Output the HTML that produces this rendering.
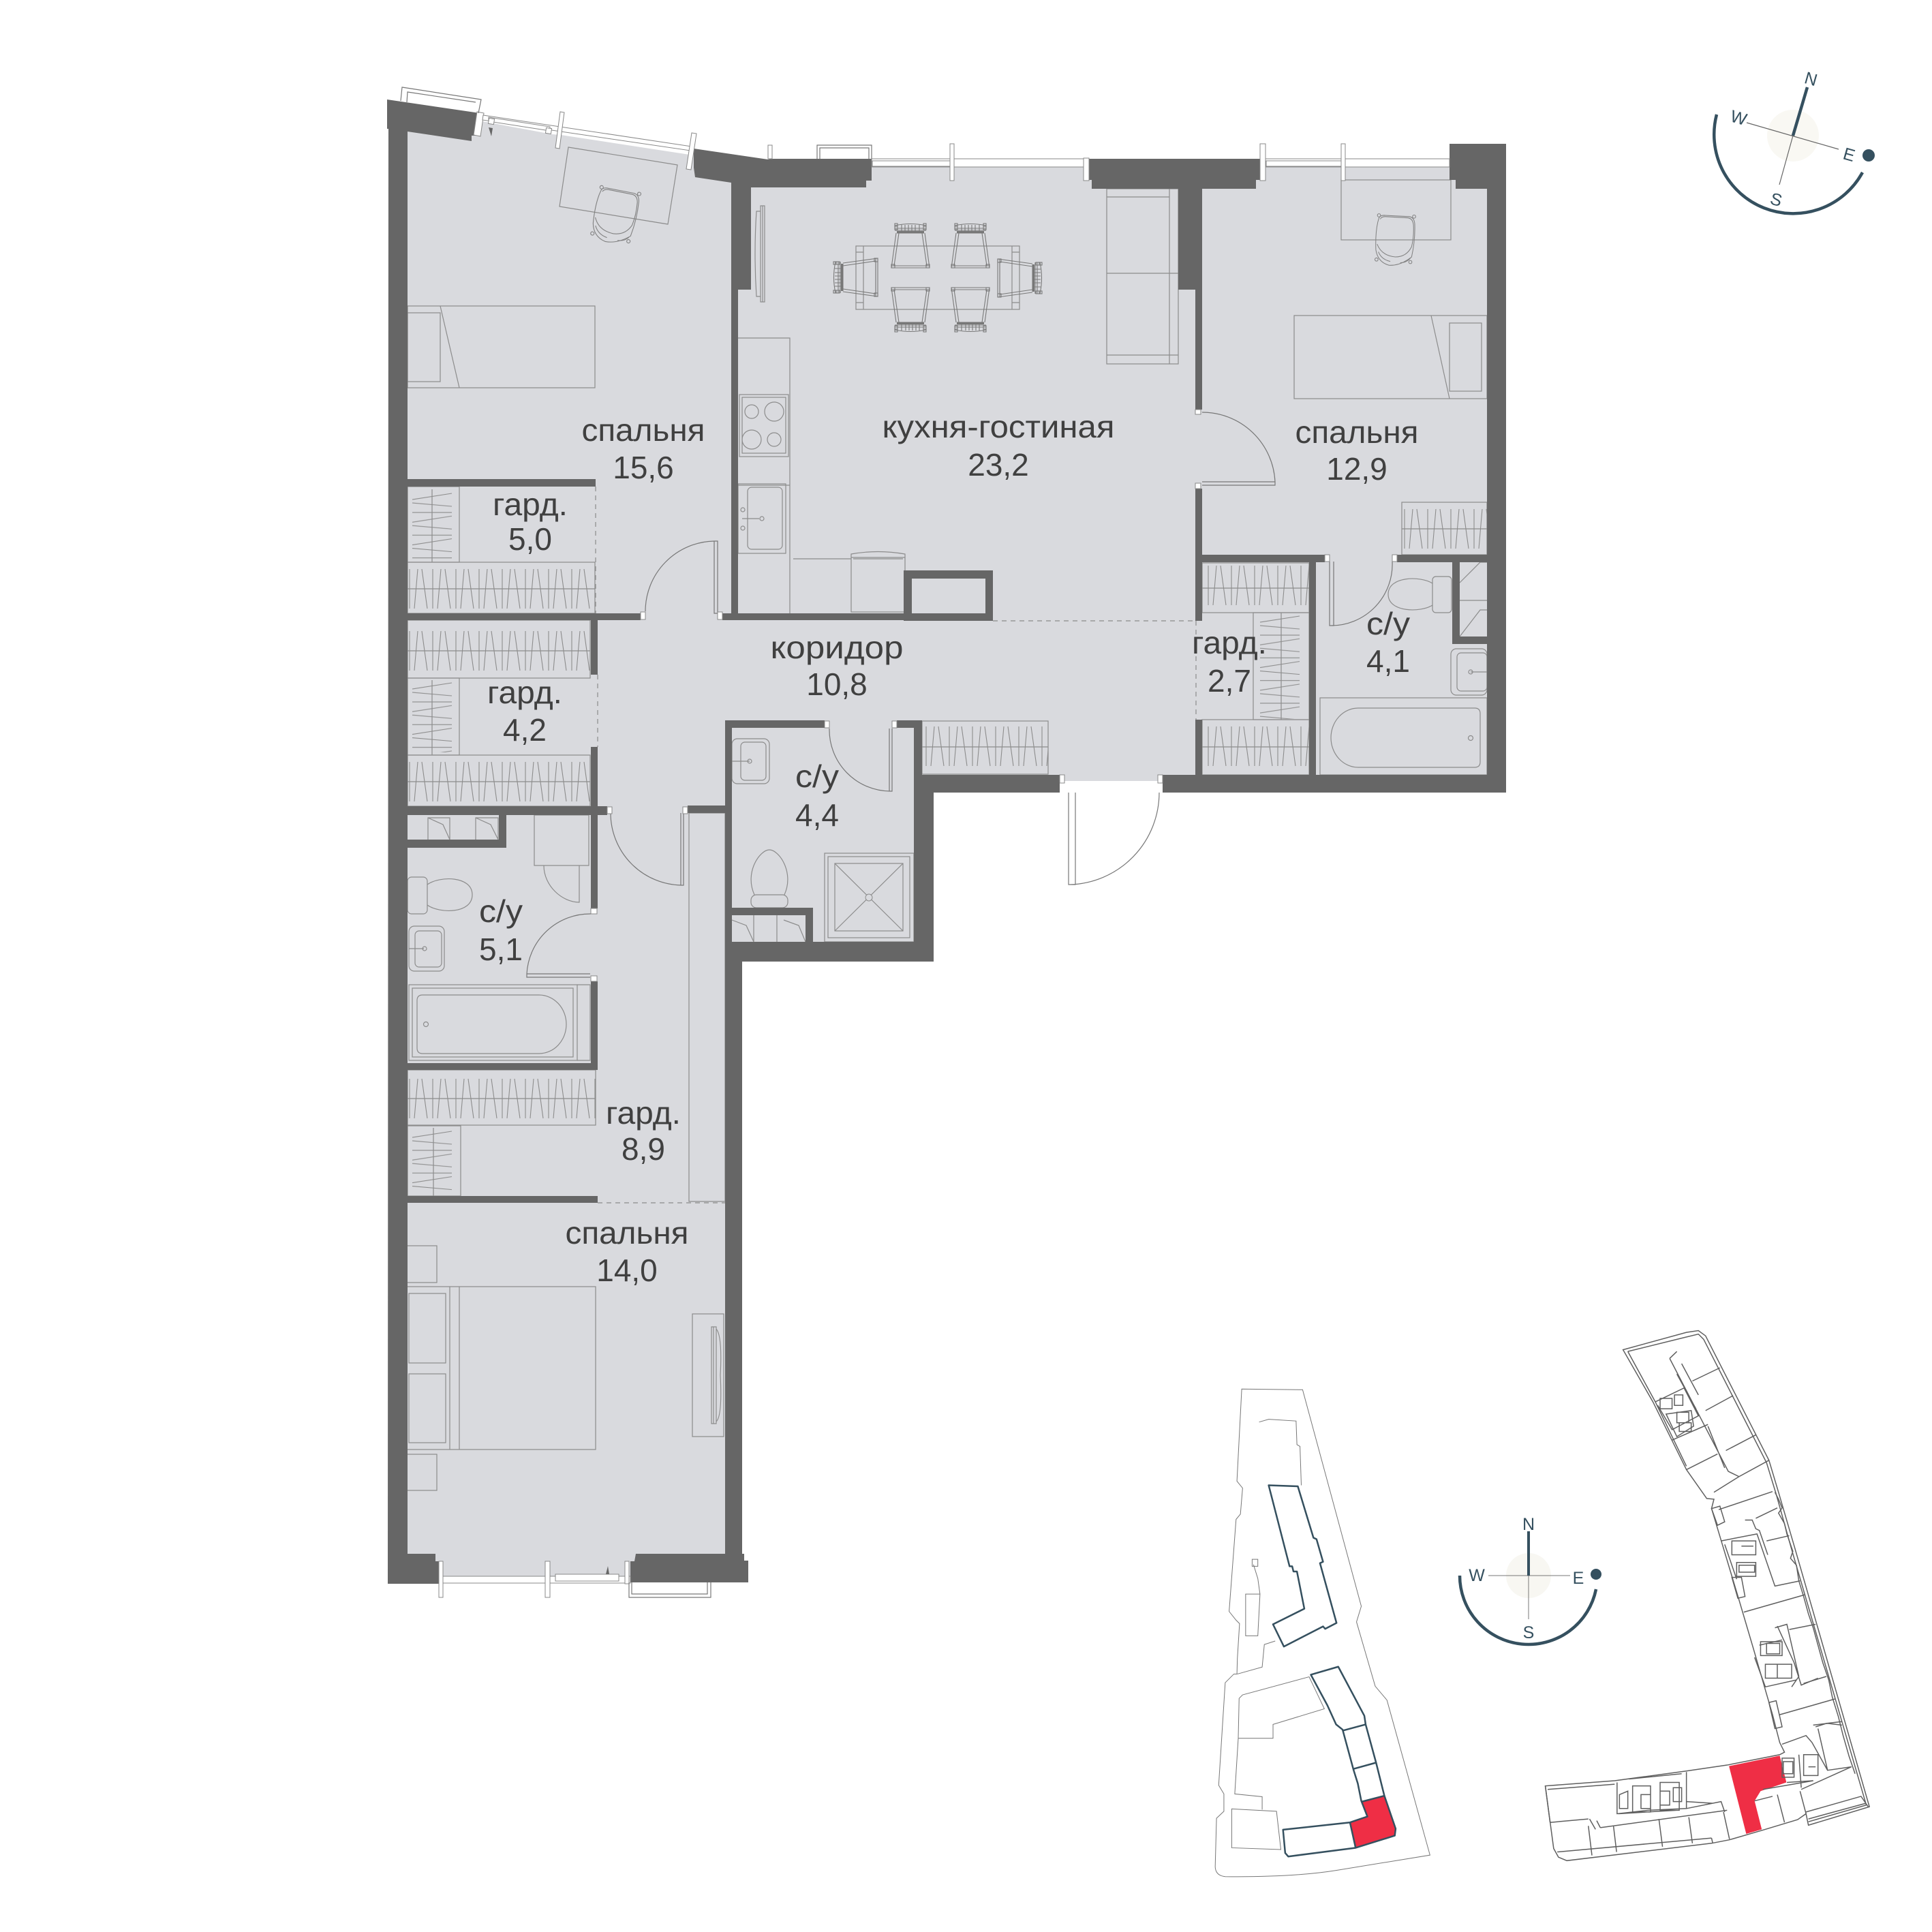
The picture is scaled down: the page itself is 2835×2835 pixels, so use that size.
<!DOCTYPE html>
<html><head><meta charset="utf-8"><style>
html,body{margin:0;padding:0;background:#fff}
svg{display:block}
.w{fill:#666}
.l{fill:none;stroke:#8c8c8c;stroke-width:1.2}
.d{fill:none;stroke:#777;stroke-width:1.2}
.t{font-family:"Liberation Sans",sans-serif;font-size:46px;fill:#404040;text-anchor:middle}
.c{font-family:"Liberation Sans",sans-serif;font-size:25px;fill:#35505f;text-anchor:middle}
.n{fill:none;stroke:#777;stroke-width:1;vector-effect:non-scaling-stroke}
.b{fill:none;stroke:#35505f;stroke-width:2.5;vector-effect:non-scaling-stroke;stroke-linejoin:round}
.g{fill:none;stroke:#5f5f5f;stroke-width:1.5;vector-effect:non-scaling-stroke}
.dash{fill:none;stroke:#8c8c8c;stroke-width:1.2;stroke-dasharray:7 6}
</style></head><body>
<svg xmlns="http://www.w3.org/2000/svg" width="2835" height="2835" viewBox="0 0 2835 2835">
<defs>
<pattern id="hz" patternUnits="userSpaceOnUse" width="34" height="90">
<path d="M3 10V68M15 10L10 68M21 10L29 68" fill="none" stroke="#8c8c8c" stroke-width="1.1"/>
</pattern>
<pattern id="vt" patternUnits="userSpaceOnUse" width="90" height="33.3">
<path d="M7 11L65 2M7 16L65 21M7 30H65" fill="none" stroke="#8c8c8c" stroke-width="1.1"/>
</pattern>
<g id="chair" fill="none" stroke="#7a7a7a" stroke-width="1.1">
<path d="M7 14L0 65H56L49 14"/><path d="M11 14L4 62H52L45 14"/><path d="M0 62H56"/>
<path d="M5 3Q28 -2 51 3"/><path d="M5 7H51M5 10H51"/>
<rect x="8" y="11" width="40" height="3.5" fill="#777" stroke="none"/>
<path d="M15 2V11M20 2V11M25 2V11M30 2V11M35 2V11M41 2V11"/>
<rect x="5" y="0" width="4" height="4"/><rect x="47" y="0" width="4" height="4"/><rect x="5" y="4" width="4" height="5"/><rect x="47" y="4" width="4" height="5"/>
<rect x="0" y="60" width="5" height="5"/><rect x="51" y="60" width="5" height="5"/>
</g>
<g id="dchair" fill="none" stroke="#808080" stroke-width="1.1">
<path d="M6 5Q8 1 14 1L54 3Q62 4 63 14Q64 40 58 66Q40 80 22 79Q4 74 1 55Q0 30 4 12Z"/>
<path d="M8 7Q10 3 16 3L52 5Q60 6 61 16Q62 35 58 50Q50 66 32 66Q10 64 3 46"/>
<path d="M5 58Q10 70 24 73M40 75Q50 75 56 68"/>
<circle cx="6" cy="1" r="2.5"/><circle cx="62" cy="3" r="2.5"/><circle cx="2" cy="70" r="2.5"/><circle cx="56" cy="74" r="2.5"/>
</g>
</defs>

<!-- floor -->
<polygon fill="#d9dade" points="598,170 708,178 810,197 823,198 1012,227 1130,240 1279,245 1592,245 1849,245 2130,245 2210,245 2210,1146 1706,1146 1355,1146 1355,1400 1075,1400 1075,2313 598,2313"/>

<!-- furniture -->
<polygon class="l" points="834,216 994,242 980,329 821,303"/>
<use href="#dchair" transform="translate(877 273) rotate(8)"/>
<rect class="l" x="598" y="449" width="275" height="120"/><rect class="l" x="598" y="459" width="48" height="101"/><path class="l" d="M646 449L674 569"/>
<!-- table -->
<rect class="l" x="1256" y="361" width="240" height="93"/><path class="l" d="M1267 361V454M1485 361V454M1256 370H1267M1256 444H1267M1485 370H1496M1485 444H1496"/>
<use href="#chair" transform="translate(1308 328)"/><use href="#chair" transform="translate(1396 328)"/>
<use href="#chair" transform="translate(1364 487) rotate(180)"/><use href="#chair" transform="translate(1452 487) rotate(180)"/>
<use href="#chair" transform="translate(1223 435) rotate(-90)"/><use href="#chair" transform="translate(1529 380) rotate(90)"/>
<!-- tv kitchen -->
<path class="l" d="M1110 310H1116V302H1122V443H1116V435H1110Q1106 372 1110 310ZM1116 302V443M1119 302V443"/>
<!-- kitchen -->
<path class="l" d="M1083 496H1159V900M1083 712H1159M1164 820H1249"/>
<rect class="l" x="1085" y="579" width="72" height="91"/><rect class="l" x="1089" y="583" width="64" height="82"/>
<circle class="l" cx="1103" cy="604" r="10"/><circle class="l" cx="1136" cy="604" r="14"/><circle class="l" cx="1103" cy="645" r="14"/><circle class="l" cx="1136" cy="645" r="10"/>
<rect class="l" x="1083" y="710" width="70" height="102"/><rect class="l" x="1097" y="715" width="51" height="91" rx="6"/>
<path class="l" d="M1089 761H1114"/><circle class="l" cx="1090" cy="748" r="3"/><circle class="l" cx="1090" cy="775" r="3"/><circle class="l" cx="1118" cy="761" r="3"/>
<rect class="l" x="1249" y="818" width="79" height="80"/><path class="l" d="M1249 818V813Q1288 806 1328 813V818"/><path class="l" d="M1252 820H1325"/>
<!-- sofa -->
<rect class="l" x="1624" y="277" width="105" height="257"/><path class="l" d="M1624 289H1716M1624 401H1729M1624 521H1729M1716 277V534"/>
<!-- desk right -->
<rect class="l" x="1968" y="264" width="161" height="88"/><use href="#dchair" transform="translate(2018 315) scale(.92 .94)"/>
<rect class="l" x="1899" y="463" width="283" height="122"/><rect class="l" x="2127" y="474" width="47" height="100"/><path class="l" d="M2100 463L2127 585"/>
<!-- bed 14 -->
<rect class="l" x="597" y="1888" width="277" height="239"/><path class="l" d="M660 1888V2127M674 1888V2127"/>
<rect class="l" x="600" y="1898" width="54" height="102"/><rect class="l" x="600" y="2016" width="54" height="101"/>
<rect class="l" x="597" y="1828" width="44" height="54"/><rect class="l" x="597" y="2134" width="44" height="53"/>
<rect class="l" x="1016" y="1928" width="46" height="180"/>
<path class="l" d="M1044 1947H1051V2089H1044ZM1051 1950Q1060 1960 1057 2018Q1060 2078 1051 2086M1047 1947V2089"/>
<rect class="l" x="1011" y="1193" width="53" height="570"/>

<!-- wardrobes -->
<g class="l">
<rect x="598" y="825" width="275" height="75"/><rect x="598" y="910" width="268" height="85"/><rect x="598" y="1108" width="268" height="75"/>
<rect x="1353" y="1058" width="185" height="78"/><rect x="598" y="1570" width="276" height="81"/><rect x="2057" y="737" width="125" height="77"/>
<rect x="1764" y="826" width="157" height="73"/><rect x="1764" y="1056" width="157" height="81"/>
<rect x="598" y="714" width="76" height="111"/><rect x="598" y="995" width="76" height="113"/><rect x="598" y="1652" width="78" height="103"/><rect x="1839" y="899" width="82" height="157"/>
</g>
<svg x="598" y="825" width="275" height="75"><rect width="275" height="75" fill="url(#hz)"/></svg>
<svg x="598" y="916" width="268" height="75"><rect width="268" height="75" fill="url(#hz)"/></svg>
<svg x="598" y="1108" width="268" height="75"><rect width="268" height="75" fill="url(#hz)"/></svg>
<svg x="1356" y="1056" width="182" height="78"><rect width="182" height="78" fill="url(#hz)"/></svg>
<svg x="598" y="1573" width="276" height="78"><rect width="276" height="78" fill="url(#hz)"/></svg>
<svg x="2058" y="737" width="124" height="77"><rect width="124" height="77" fill="url(#hz)"/></svg>
<svg x="1770" y="820" width="151" height="73"><rect width="151" height="73" fill="url(#hz)"/></svg>
<svg x="1770" y="1056" width="151" height="78"><rect width="151" height="78" fill="url(#hz)"/></svg>
<svg x="598" y="722" width="76" height="99"><rect width="76" height="99" fill="url(#vt)"/></svg>
<svg x="598" y="1000" width="76" height="104"><rect width="76" height="104" fill="url(#vt)"/></svg>
<svg x="598" y="1658" width="78" height="94"><rect width="78" height="94" fill="url(#vt)"/></svg>
<svg x="1842" y="902" width="70" height="153"><rect width="70" height="153" fill="url(#vt)"/></svg>
<path class="l" d="M598 864H873M598 955H866M598 1147H866M1353 1096H1538M598 1612H874M2057 776H2182M1764 863H1921M1764 1096H1921M634 718V825M634 998V1108M636 1655V1755M1880 899V1056"/>

<!-- bathrooms -->
<rect class="l" x="2129" y="952" width="53" height="68" rx="8"/><rect class="l" x="2138" y="958" width="44" height="56" rx="6"/><path class="l" d="M2158 986H2182"/><circle class="l" cx="2158" cy="986" r="3"/>
<rect class="l" x="2102" y="846" width="28" height="53" rx="5"/><path class="l" d="M2102 856C2085 845 2037 845 2037 872C2037 899 2085 899 2102 888"/>
<rect class="l" x="1937" y="1024" width="245" height="113"/><path class="l" d="M1993 1039H2164Q2172 1039 2172 1047V1118Q2172 1126 2164 1126H1993A40 43.5 0 0 1 1993 1039Z"/><circle class="l" cx="2158" cy="1083" r="3.5"/>
<path class="l" d="M2142 881H2182M2142 855L2172 825H2182M2142 934L2172 895H2182"/>
<rect class="l" x="1074" y="1084" width="55" height="66" rx="8"/><rect class="l" x="1087" y="1089" width="37" height="56" rx="6"/><path class="l" d="M1074 1117H1100"/><circle class="l" cx="1100" cy="1117" r="3"/>
<path class="l" d="M1107 1313C1092 1280 1115 1247 1129 1247C1143 1247 1166 1280 1151 1313"/><rect class="l" x="1102" y="1313" width="54" height="19" rx="8"/>
<rect class="l" x="1210" y="1252" width="131" height="130"/><rect class="l" x="1215" y="1257" width="120" height="119"/><rect class="l" x="1225" y="1267" width="100" height="99"/>
<path class="l" d="M1225 1267L1325 1366M1325 1267L1225 1366"/><circle cx="1275" cy="1317" r="5" fill="#d9dade" stroke="#8c8c8c"/>
<path class="l" d="M1074 1350L1095 1358L1106 1382M1106 1343V1382M1140 1343V1382M1150 1350L1172 1358L1182 1382"/>
<rect class="l" x="784" y="1196" width="80" height="74"/><path class="l" d="M798 1270C798 1300 825 1324 850 1324V1270"/>
<path class="l" d="M628 1232V1200H660V1232M628 1200L650 1210L660 1232M698 1232V1200H731V1232M698 1200L720 1210L731 1232"/>
<rect class="l" x="598" y="1287" width="29" height="54" rx="6"/><path class="l" d="M627 1298C645 1285 693 1285 693 1313C693 1341 645 1341 627 1328"/>
<rect class="l" x="600" y="1359" width="52" height="66" rx="8"/><rect class="l" x="609" y="1366" width="39" height="53" rx="6"/><path class="l" d="M600 1392H622"/><circle class="l" cx="623" cy="1392" r="3"/>
<rect class="l" x="600" y="1445" width="247" height="111"/><rect class="l" x="605" y="1450" width="236" height="101"/><path class="l" d="M620 1460H791A40 43 0 0 1 791 1546H620Q612 1546 612 1538V1468Q612 1460 620 1460Z"/><circle class="l" cx="625" cy="1503" r="3.5"/>
<path class="l" d="M847 1445H866V1556H847"/>

<!-- walls -->
<g class="w">
<polygon points="568,146 704,166 700,199 692,199 692,207 598,193 598,2280 639,2280 639,2291 646,2291 646,2324 569,2324 570,189 568,189"/>
<polygon points="1018,218 1127,234 1132,233 1279,233 1279,265 1271,265 1271,275 1102,275 1073,268 1020,260 1018,246"/>
<rect x="1073" y="268" width="29" height="157"/><rect x="1073" y="425" width="10" height="485"/>
<rect x="598" y="900" width="342" height="10"/><rect x="1060" y="900" width="266" height="10"/>
<path d="M1326 837H1457V911H1326ZM1338 849V900H1446V849Z" fill-rule="evenodd"/>
<rect x="598" y="703" width="276" height="11"/>
<polygon points="1598,233 1849,233 1849,264 1843,264 1843,277 1602,277 1602,264 1598,264"/>
<rect x="1729" y="277" width="35" height="148"/><rect x="1754" y="425" width="10" height="176"/><rect x="1754" y="717" width="10" height="194"/><rect x="1754" y="1056" width="10" height="81"/>
<polygon points="2127,211 2210,211 2210,1163 1706,1163 1706,1137 2182,1137 2182,277 2136,277 2136,264 2127,264"/>
<rect x="1764" y="814" width="180" height="11"/><rect x="2050" y="814" width="132" height="11"/>
<rect x="1921" y="825" width="10" height="312"/><rect x="2131" y="825" width="11" height="120"/><rect x="2131" y="934" width="51" height="11"/>
<polygon points="1353,1137 1555,1137 1555,1163 1370,1163 1370,1411 1089,1411 1089,2280 1092,2280 1092,2290 1098,2290 1098,2322 925,2322 925,2291 931,2291 933,2280 1064,2280 1064,1382 1341,1382 1341,1068 1316,1068 1316,1057 1353,1057"/>
<rect x="867" y="910" width="10" height="80"/><rect x="867" y="1096" width="10" height="87"/>
<rect x="598" y="1183" width="293" height="13"/><rect x="1009" y="1182" width="55" height="11"/>
<rect x="732" y="1196" width="11" height="48"/><rect x="598" y="1232" width="145" height="12"/>
<rect x="867" y="1196" width="10" height="137"/><rect x="867" y="1440" width="10" height="130"/><rect x="598" y="1560" width="279" height="10"/>
<rect x="1064" y="1057" width="146" height="11"/><rect x="1064" y="1057" width="10" height="325"/>
<rect x="1074" y="1332" width="119" height="11"/><rect x="1182" y="1343" width="11" height="39"/>
<rect x="598" y="1755" width="279" height="10"/>
</g>

<!-- doors -->
<path class="d" d="M1764 605A107 107 0 0 1 1871 707V712H1764M1764 707H1871"/>
<path class="d" d="M1048 794V900H1053V794H1048M1048 794A103 103 0 0 0 947 897"/>
<path class="d" d="M1951 824V918H1957V824M1953 918A90 90 0 0 0 2043 824"/>
<path class="d" d="M1305 1069V1161H1309V1069M1306 1161A90 90 0 0 1 1217 1069"/>
<path class="d" d="M999 1193V1299H1003V1193M1000 1299A106 106 0 0 1 896 1193"/>
<path class="d" d="M867 1341A93 93 0 0 0 773 1429V1434H866M773 1429H866"/>
<path class="d" d="M1568 1163V1298H1578V1163M1570 1298A135 135 0 0 0 1701 1163"/>
<g fill="#fff" stroke="#888" stroke-width="1">
<rect x="940" y="898" width="7" height="11"/><rect x="1053" y="898" width="7" height="11"/><rect x="1754" y="601" width="8" height="7"/><rect x="1754" y="709" width="8" height="8"/>
<rect x="1944" y="814" width="7" height="10"/><rect x="2043" y="814" width="7" height="10"/><rect x="1210" y="1058" width="7" height="10"/><rect x="1309" y="1058" width="7" height="10"/>
<rect x="1555" y="1137" width="7" height="12"/><rect x="1699" y="1137" width="7" height="12"/><rect x="891" y="1184" width="7" height="10"/><rect x="1002" y="1184" width="7" height="10"/>
<rect x="867" y="1333" width="9" height="8"/><rect x="867" y="1432" width="9" height="8"/>
</g>

<!-- dashed -->
<path class="dash" d="M874 714V900M877 990V1096M877 1765H1064M1457 911H1755M1755 911V1056"/>

<!-- windows -->
<g fill="#fff" stroke="#888" stroke-width="1">
<polygon points="700,164 710,166 705,200 695,198"/>
<polygon points="709,169 1015,215 1013,221 708,176"/>
<polygon points="717,172 807,186 807,192 717,178"/>
<rect x="717" y="174" width="8" height="8" transform="rotate(9 721 178)"/><rect x="801" y="188" width="8" height="8" transform="rotate(9 805 192)"/>
<polygon points="822,164 828,165 821,218 815,217"/>
<polygon points="1015,195 1022,196 1014,249 1007,248"/>
<rect x="1279" y="233" width="313" height="12"/><rect x="1280" y="236" width="115" height="8"/>
<rect x="1394" y="211" width="6" height="54"/><rect x="1590" y="232" width="8" height="33"/>
<rect x="1127" y="213" width="6" height="20"/><rect x="1849" y="211" width="8" height="54"/>
<rect x="1857" y="233" width="270" height="12"/><rect x="1858" y="236" width="110" height="8"/><rect x="1968" y="211" width="6" height="54"/>
<rect x="646" y="2313" width="279" height="10"/><rect x="815" y="2310" width="93" height="10"/>
<rect x="644" y="2291" width="6" height="53"/><rect x="800" y="2291" width="7" height="53"/><rect x="917" y="2291" width="6" height="33"/>
</g>
<path class="d" d="M588 148L590 128L706 146L702 166M597 150L598 135L698 150"/>
<path class="d" d="M1199 233V213H1279V233M1203 233V217H1275V233"/>
<path class="d" d="M923 2322V2344H1043V2322M927 2322V2339H1038V2322"/>
<path fill="#666" d="M889 2310L892 2298L894 2310Z"/><path fill="#666" d="M717 187L721 200L723 188Z"/>

<!-- labels -->
<text class="t" x="944" y="647" textLength="181" lengthAdjust="spacingAndGlyphs">спальня</text><text class="t" x="944" y="702">15,6</text>
<text class="t" x="1465" y="642" textLength="341" lengthAdjust="spacingAndGlyphs">кухня-гостиная</text><text class="t" x="1465" y="698">23,2</text>
<text class="t" x="1991" y="650" textLength="181" lengthAdjust="spacingAndGlyphs">спальня</text><text class="t" x="1991" y="704">12,9</text>
<text class="t" x="778" y="756" textLength="110" lengthAdjust="spacingAndGlyphs">гард.</text><text class="t" x="778" y="807">5,0</text>
<text class="t" x="1228" y="966" textLength="195" lengthAdjust="spacingAndGlyphs">коридор</text><text class="t" x="1228" y="1020">10,8</text>
<text class="t" x="1804" y="959" textLength="110" lengthAdjust="spacingAndGlyphs">гард.</text><text class="t" x="1804" y="1015">2,7</text>
<text class="t" x="2037" y="931" textLength="64" lengthAdjust="spacingAndGlyphs">с/у</text><text class="t" x="2037" y="986">4,1</text>
<text class="t" x="770" y="1032" textLength="110" lengthAdjust="spacingAndGlyphs">гард.</text><text class="t" x="770" y="1087">4,2</text>
<text class="t" x="1199" y="1155" textLength="64" lengthAdjust="spacingAndGlyphs">с/у</text><text class="t" x="1199" y="1212">4,4</text>
<text class="t" x="735" y="1353" textLength="64" lengthAdjust="spacingAndGlyphs">с/у</text><text class="t" x="735" y="1409">5,1</text>
<text class="t" x="944" y="1649" textLength="110" lengthAdjust="spacingAndGlyphs">гард.</text><text class="t" x="944" y="1702">8,9</text>
<text class="t" x="920" y="1825" textLength="181" lengthAdjust="spacingAndGlyphs">спальня</text><text class="t" x="920" y="1880">14,0</text>

<!-- compass top -->
<circle cx="2631" cy="199" r="38" fill="#f9f8f3"/>
<path d="M2563 180L2698 219M2631 199L2611 271" stroke="#666" stroke-width="1.2" fill="none"/>
<path d="M2631 199L2652 128" stroke="#35505f" stroke-width="4.5" fill="none"/>
<path d="M2519 168A116 116 0 0 0 2733 253" stroke="#35505f" stroke-width="4.5" fill="none"/>
<circle cx="2742" cy="228" r="9" fill="#35505f"/>
<text class="c" transform="translate(2655 124) rotate(16)">N</text>
<text class="c" transform="translate(2549 181) rotate(16)">W</text>
<text class="c" transform="translate(2711 235) rotate(16)">E</text>
<text class="c" transform="translate(2604 301) rotate(16)">S</text>

<!-- compass bottom -->
<circle cx="2243" cy="2312" r="33" fill="#f8f7f2"/>
<path d="M2184 2312H2304M2243 2312V2376" stroke="#777" stroke-width="1" fill="none"/>
<path d="M2243 2312V2247" stroke="#35505f" stroke-width="4" fill="none"/>
<path d="M2142 2312A101 101 0 0 0 2342 2332" stroke="#35505f" stroke-width="4.5" fill="none"/>
<ellipse cx="2342" cy="2310" rx="8" ry="8" fill="#35505f"/>
<text class="c" x="2243" y="2245">N</text><text class="c" x="2167" y="2320">W</text><text class="c" x="2316" y="2324">E</text><text class="c" x="2243" y="2404">S</text>

<!-- site plan -->
<g transform="translate(1750 2000) scale(.638 .51)">
<path class="n" d="M113 75L253 77L388 700L377 745L420 930L447 970L546 1416L330 1460Q230 1480 75 1478Q53 1475 52 1450L55 1310L72 1290L72 1240L60 1215L75 920L95 895L102 895L103 850L108 750L100 740L84 715L100 450L110 435L115 360L102 340Z"/>
<path class="n" d="M153 170L175 162L238 167L240 235L247 240L250 352M103 895L160 875L165 810L190 800M122 665H155L150 785H122ZM137 565H150V585H137ZM140 580L150 620L155 665"/>
<path class="n" d="M105 1080H185V1040L303 995L268 903L115 955L107 965ZM105 1080L97 1240L160 1248L160 1285M90 1283L193 1290L203 1400L90 1395Z"/>
<path d="M390 1262L442 1245L467 1340L465 1358L375 1393L362 1322L402 1305Z" fill="#ef2e45"/>
<path class="b" d="M175 352L242 355L278 503L285 507L300 572L293 576L331 748L305 765L300 758L210 816L185 752L257 707L240 600L232 600L229 585L223 585Z"/>
<path class="b" d="M272 897L335 874L395 1015L398 1040L422 1150L441 1245L467 1340L465 1360L375 1395L220 1420L213 1410L208 1343L362 1322L402 1305L388 1260L380 1210L370 1170L345 1055L330 1040L310 985Z"/>
<path class="b" d="M345 1058L398 1040M370 1168L422 1150M390 1262L442 1245M362 1322L375 1395"/>
</g>

<!-- building plan -->
<g transform="translate(2250 1950) scale(.351 .51)">
<path d="M818 1258L1030 1228L1058 1305L950 1330L925 1358L955 1440L890 1453Z" fill="#ef2e45"/>
<path class="g" d="M375 60L640 10L690 5L720 20L985 378L1025 470L1095 635L1405 1375L1150 1428L1140 1395L1105 1412L955 1443L820 1470L745 1480L140 1530L105 1520L85 1495L50 1315L340 1300L640 1272L810 1255L1030 1225L1050 1218L1030 1190L1000 1110L920 920L860 780L745 517L755 490L725 488L640 405L500 210Z"/>
<path class="g" d="M395 65L630 25L690 15L712 30L975 385L1015 475L1080 635L1392 1370L1150 1418M395 65L510 210L640 395M100 1505L745 1465M60 1325L340 1310M750 1480L745 1465"/>
<path class="g" d="M570 85L600 65M570 85L815 410L860 425M665 150L780 112M720 235L835 192M805 350L930 305M640 405L770 360M860 425L985 378M755 470L860 425M510 210L630 170L690 250L580 290L520 220M555 245L660 235L670 280L600 310ZM590 190H625V220H590ZM530 200H580V230H530ZM580 320L730 275M620 100L690 190M600 130L680 230M730 280L800 400"/>
<path class="g" d="M775 520L1000 468M930 545L1020 515M975 610L1070 595M880 815L1135 765M1070 865L1180 850M945 910L1040 895M1030 1110L1260 1065M1130 1020L1225 1000M1180 1145L1225 1135L1290 1130M745 517L780 510L800 555L770 565ZM830 715L870 715L885 770L855 775ZM985 1075L1015 1070L1040 1145L1010 1150Z"/>
<path class="g" d="M785 610L935 590L965 650L1010 740L1115 725M885 550L915 550L930 575L945 580L980 650M830 610H930V650H830ZM850 672H930V712H850ZM870 625H920M800 620L850 720M1010 860L1060 850L1110 1000L1080 1030M1020 855L1090 960L1120 1025L1190 1005M925 945L970 1030L1100 1010M970 965H1080V1005H970ZM950 900H1040V940H950ZM1020 965V1005"/>
<path class="g" d="M1040 1195L1140 1170L1165 1190L1230 1270M1170 1140L1230 1135L1290 1140M1040 1235H1090V1290H1040ZM1130 1225H1190V1285H1130ZM1150 1260H1180M1110 1225L1120 1320M1190 1150L1230 1270L1330 1260M1060 1305L1170 1300M1120 1325L1330 1260"/>
<path class="g" d="M925 1358L1000 1345M1020 1340L1050 1420M1115 1330L1140 1395M1140 1390L1370 1345L1400 1375M960 1325L1170 1300M1150 1410L1390 1365"/>
<path class="g" d="M1010 470L1025 490L1040 515L1025 530L1050 560L1060 590L1075 620L1085 640L1075 660L1100 680L1110 725L1130 770L1150 820L1170 860L1190 910L1210 960L1235 1010L1250 1060L1275 1115L1295 1170L1320 1230L1345 1280"/>
<path class="g" d="M70 1420L230 1410M280 1435L810 1385M230 1430L245 1515M335 1430L348 1505M525 1410L540 1490M650 1405L665 1480M795 1390L820 1468M350 1305V1395L480 1385L640 1380V1275M355 1395L600 1385M415 1315H490V1390H415ZM530 1305H610V1385H530ZM450 1340H490V1380H450ZM530 1330H570V1370H530ZM400 1295L620 1280M640 1360L750 1365M800 1390L785 1360L640 1380M70 1420L50 1315M235 1410L260 1440M280 1435L265 1415"/>
<path class="g" d="M360 1340L395 1330V1380H360ZM585 1320H620V1360H585ZM600 240H650V270H600ZM610 270H660V295H610ZM860 680H925V700H860ZM975 905H1030V935H975ZM1045 1245H1085V1280H1045Z"/>
</g>
</svg>
</body></html>
